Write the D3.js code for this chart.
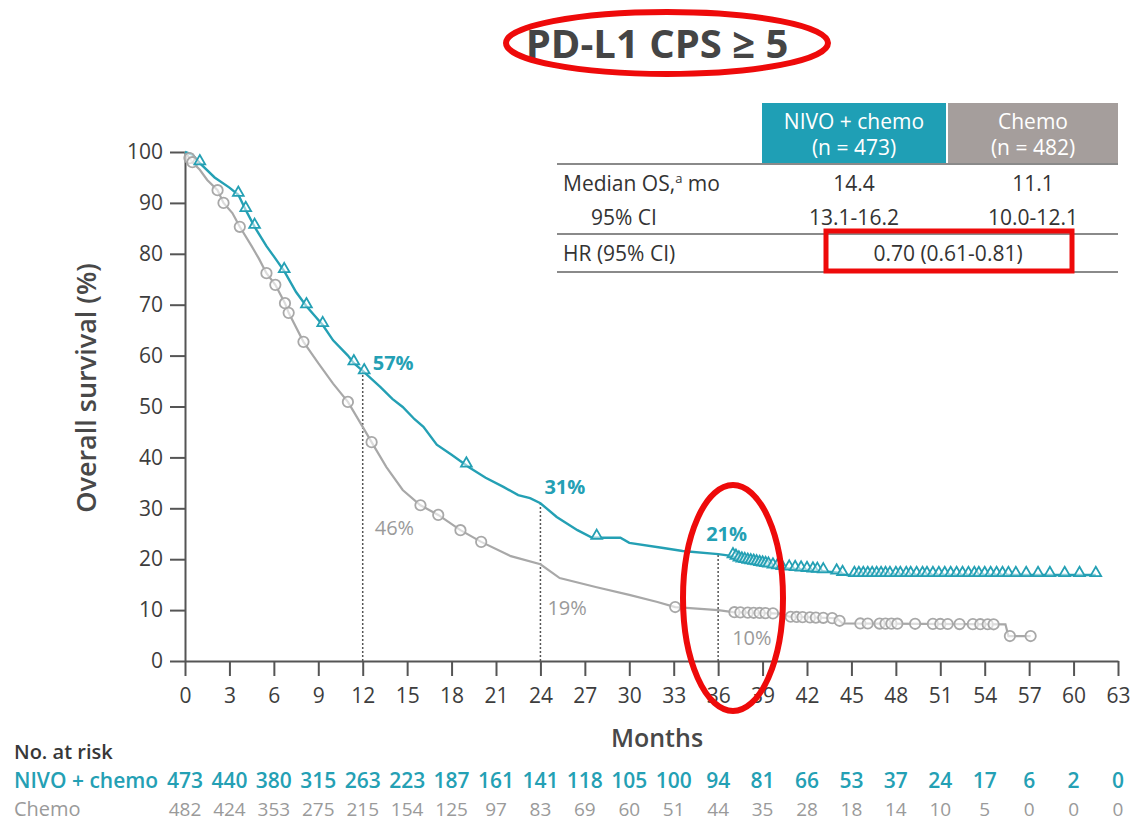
<!DOCTYPE html>
<html>
<head>
<meta charset="utf-8">
<script src="https://cdn.jsdelivr.net/npm/d3@7"></script>
<style>
  html, body { margin: 0; padding: 0; background: #fff; }
  svg { display: block; font-family: "Open Sans", "Noto Sans", sans-serif; }
</style>
</head>
<body>
<svg id="chart" width="1130" height="821"></svg>
<script>
// ---- Data ----
const monthTicks = [0,3,6,9,12,15,18,21,24,27,30,33,36,39,42,45,48,51,54,57,60,63];
const survivalTicks = [0,10,20,30,40,50,60,70,80,90,100];

// Kaplan–Meier estimates, [month, % alive]
const nivoCurve = [
  [0,100],[0.5,99.5],[1.0,97.8],[2.0,95.0],[3.0,93.0],[3.6,91.6],[4.1,88.6],[4.7,85.3],
  [5.5,81.5],[6.0,79.5],[6.7,76.6],[7.5,72.5],[8.2,69.7],[9.3,66.0],[10.0,63.0],[11.0,60.0],
  [11.4,58.5],[12.0,57.0],[13.2,53.8],[14.0,51.5],[14.7,49.9],[15.5,47.5],[16.1,46.0],
  [17.0,42.5],[18.0,40.5],[19.2,38.0],[20.3,36.0],[21.5,34.2],[22.5,32.6],[23.3,32.0],
  [24.0,31.0],[25.1,28.3],[26.5,25.7],[27.5,24.2],[29.4,24.2],[30.0,23.2],[32.3,22.2],
  [33.6,21.6],[36.0,21.0],[37.0,20.6],[37.5,19.8],[40.2,18.3],[42.0,17.9],[44.0,17.4],
  [44.7,16.9],[61.5,16.9]
];
const chemoCurve = [
  [0,100],[0.5,98.0],[1.0,96.5],[1.5,94.5],[2.2,92.5],[2.6,90.0],[3.2,88.0],[3.7,85.3],
  [4.5,81.5],[5.0,79.0],[5.5,76.2],[6.1,73.9],[6.75,70.3],[7.0,68.4],[8.0,62.7],[9.0,58.5],
  [10.0,54.5],[11.0,50.9],[12.0,46.0],[12.6,43.0],[13.6,38.1],[14.7,33.6],[15.9,30.6],
  [17.1,28.7],[18.6,25.7],[20.0,23.4],[22.0,20.6],[24.0,19.0],[25.3,16.3],[27.8,14.5],
  [30.0,13.0],[31.9,11.6],[33.1,10.6],[34.1,10.4],[36.0,10.0],[37.0,9.6],[40.3,9.3],
  [40.8,8.7],[44.0,8.4],[44.4,7.4],[55.4,7.2],[55.6,4.9],[57.1,4.9]
];

// Censoring times (months)
const nivoCensor = [
  1.0,3.6,4.1,4.7,6.7,8.2,9.3,11.4,12.1,19.0,27.8,
  37.0,37.2,37.4,37.6,37.8,38.0,38.2,38.4,38.6,38.8,39.0,39.2,39.4,39.7,40.0,40.3,
  40.8,41.2,41.6,42.0,42.4,42.7,43.1,44.0,44.4,
  45.2,45.5,45.8,46.1,46.4,46.7,47.0,47.3,47.6,48.0,48.3,48.7,49.0,49.4,49.8,50.1,
  50.5,50.9,51.3,51.7,52.1,52.5,52.9,53.3,53.6,54.0,54.4,54.8,55.2,55.6,56.1,56.8,
  57.6,58.4,59.4,60.4,61.5
];
const chemoCensor = [
  0.3,0.5,2.2,2.6,3.7,5.5,6.1,6.75,7.0,8.0,11.0,12.6,15.9,17.1,18.6,20.0,33.1,
  37.1,37.5,38.0,38.4,38.8,39.2,39.7,40.9,41.3,41.7,42.2,42.6,43.1,43.7,44.2,
  45.6,46.1,46.9,47.3,47.7,48.1,49.3,50.5,51.0,51.5,52.3,53.2,53.7,54.2,54.6,55.7,57.1
];

// Landmark survival rates
const landmarkMonths = [12, 24, 36];
const nivoLandmarks = [57, 31, 21];
const chemoLandmarks = [46, 19, 10];

// Numbers at risk
const nivoAtRisk = [473,440,380,315,263,223,187,161,141,118,105,100,94,81,66,53,37,24,17,6,2,0];
const chemoAtRisk = [482,424,353,275,215,154,125,97,83,69,60,51,44,35,28,18,14,10,5,0,0,0];

// Summary table
const armHeaders = [["NIVO + chemo", "(n = 473)"], ["Chemo", "(n = 482)"]];
const medianOS = ["14.4", "11.1"];
const medianCI = ["13.1-16.2", "10.0-12.1"];
const hazardRatio = "0.70 (0.61-0.81)";

// ---- Style ----
const TEAL = "#24a0b4";
const TEAL_HEAD = "#1f9fb5";
const GREY = "#a8a8a8";
const GREY_TEXT = "#9a9a9a";
const GREY_HEAD = "#a59e9c";
const INK = "#3d3d3d";
const RED = "#ee0a0a";

const svg = d3.select("#chart");

const x = d3.scaleLinear().domain([0, 63]).range([185, 1118]);
const y = d3.scaleLinear().domain([0, 100]).range([661, 152]);

// Title
svg.append("text")
  .attr("x", 657).attr("y", 58)
  .attr("text-anchor", "middle")
  .attr("font-size", 40).attr("font-weight", 700)
  .attr("fill", "#454545")
  .text("PD-L1 CPS \u2265 5");

// Axes
const xAxis = svg.append("g")
  .attr("transform", `translate(0,${y(0)})`)
  .call(d3.axisBottom(x).tickValues(monthTicks).tickSize(15).tickPadding(12).tickSizeOuter(0));
const yAxis = svg.append("g")
  .attr("transform", `translate(${x(0)},0)`)
  .call(d3.axisLeft(y).tickValues(survivalTicks).tickSize(15).tickPadding(7).tickSizeOuter(0));
[xAxis, yAxis].forEach(g => {
  g.select(".domain").attr("stroke", "#555").attr("stroke-width", 2);
  g.selectAll(".tick line").attr("stroke", "#555").attr("stroke-width", 2);
  g.selectAll(".tick text").attr("fill", INK).attr("font-size", 21)
    .attr("font-family", "'Open Sans', sans-serif");
});

// Axis titles
svg.append("text")
  .attr("x", 657).attr("y", 747)
  .attr("text-anchor", "middle")
  .attr("font-size", 25).attr("font-weight", 600).attr("fill", "#484848")
  .text("Months");
svg.append("text")
  .attr("transform", `translate(96,388) rotate(-90)`)
  .attr("text-anchor", "middle")
  .attr("font-size", 27).attr("font-weight", 600).attr("fill", "#484848")
  .text("Overall survival (%)");

// Landmark guide lines, up to the NIVO curve
svg.append("g").selectAll("line")
  .data(landmarkMonths.map((m, i) => [m, nivoLandmarks[i]]))
  .join("line")
  .attr("x1", d => x(d[0])).attr("x2", d => x(d[0]))
  .attr("y1", y(0)).attr("y2", d => y(d[1]))
  .attr("stroke", "#555").attr("stroke-width", 1.5)
  .attr("stroke-dasharray", "2,2");

// Curves
const line = d3.line().x(d => x(d[0])).y(d => y(d[1])).curve(d3.curveLinear);
function valueAt(curve, m) {
  const i = d3.bisector(d => d[0]).right(curve, m);
  if (i <= 0) return curve[0][1];
  if (i >= curve.length) return curve[curve.length - 1][1];
  const a = curve[i - 1], b = curve[i];
  const t = (m - a[0]) / (b[0] - a[0]);
  return a[1] + t * (b[1] - a[1]);
}

svg.append("path").datum(chemoCurve)
  .attr("d", line).attr("fill", "none")
  .attr("stroke", GREY).attr("stroke-width", 2.2);
svg.append("path").datum(nivoCurve)
  .attr("d", line).attr("fill", "none")
  .attr("stroke", TEAL).attr("stroke-width", 2.4);

// Censor marks
svg.append("g").selectAll("circle")
  .data(chemoCensor)
  .join("circle")
  .attr("cx", d => x(d)).attr("cy", d => y(valueAt(chemoCurve, d)))
  .attr("r", 5.2).attr("fill", "#fff").attr("fill-opacity", 0.6)
  .attr("stroke", GREY).attr("stroke-width", 1.8);

const tri = d3.symbol().type(d3.symbolTriangle).size(50);
svg.append("g").selectAll("path")
  .data(nivoCensor)
  .join("path")
  .attr("d", tri)
  .attr("transform", d => `translate(${x(d)},${y(valueAt(nivoCurve, d)) - 2})`)
  .attr("fill", "#fff").attr("fill-opacity", 0.5)
  .attr("stroke", TEAL).attr("stroke-width", 1.8);

// Landmark labels
svg.append("g").selectAll("text")
  .data(landmarkMonths.map((m, i) => ({ m, v: nivoLandmarks[i] })))
  .join("text")
  .attr("x", (d, i) => x(d.m) + [10, 4, -12][i])
  .attr("y", (d, i) => y(d.v) + [-1, -9, -13][i])
  .attr("font-size", 20).attr("font-weight", 700).attr("fill", TEAL)
  .text(d => d.v + "%");
svg.append("g").selectAll("text")
  .data(landmarkMonths.map((m, i) => ({ m, v: chemoLandmarks[i] })))
  .join("text")
  .attr("x", (d, i) => x(d.m) + [12, 7, 14][i])
  .attr("y", (d, i) => y(d.v) + [108, 51, 35][i])
  .attr("font-size", 20).attr("fill", GREY_TEXT)
  .text(d => d.v + "%");

// Summary table
const colX = [762, 948];
const colW = [184, 170];
const TFS = 21;
const head = svg.append("g");
armHeaders.forEach((h, i) => {
  head.append("rect").attr("x", colX[i]).attr("y", 103).attr("width", colW[i]).attr("height", 61)
    .attr("fill", i === 0 ? TEAL_HEAD : GREY_HEAD);
  head.append("text").attr("x", colX[i] + colW[i] / 2).attr("y", 129)
    .attr("text-anchor", "middle").attr("font-size", TFS).attr("fill", "#fff").text(h[0]);
  head.append("text").attr("x", colX[i] + colW[i] / 2).attr("y", 155)
    .attr("text-anchor", "middle").attr("font-size", TFS).attr("fill", "#fff").text(h[1]);
});
[164, 234, 272].forEach(yy => {
  svg.append("line").attr("x1", 557).attr("x2", 1118).attr("y1", yy).attr("y2", yy)
    .attr("stroke", "#8a8a8a").attr("stroke-width", 2);
});
const rowText = (xx, yy, t, anchor) => svg.append("text")
  .attr("x", xx).attr("y", yy).attr("text-anchor", anchor || "start")
  .attr("font-size", TFS).attr("fill", "#333").text(t);
const med = rowText(563, 191, "Median OS,", "start");
med.append("tspan").attr("font-size", 13).attr("dy", -8).text("a");
med.append("tspan").attr("dy", 8).text(" mo");
rowText(624, 225, "95% CI", "middle");
rowText(563, 261, "HR (95% CI)", "start");
medianOS.forEach((v, i) => rowText(colX[i] + colW[i] / 2, 191, v, "middle"));
medianCI.forEach((v, i) => rowText(colX[i] + colW[i] / 2, 225, v, "middle"));
rowText(948, 261, hazardRatio, "middle");

// Numbers at risk
svg.append("text").attr("x", 14).attr("y", 759)
  .attr("font-size", 20).attr("font-weight", 600).attr("fill", "#383838").text("No. at risk");
svg.append("text").attr("x", 14).attr("y", 788)
  .attr("font-size", 21).attr("font-weight", 600).attr("fill", TEAL).text("NIVO + chemo");
svg.append("text").attr("x", 14).attr("y", 816)
  .attr("font-size", 20).attr("fill", GREY_TEXT).text("Chemo");
svg.append("g").selectAll("text")
  .data(nivoAtRisk)
  .join("text")
  .attr("x", (d, i) => x(monthTicks[i])).attr("y", 788)
  .attr("text-anchor", "middle").attr("font-size", 21).attr("font-weight", 600)
  .attr("fill", TEAL).text(d => d);
svg.append("g").selectAll("text")
  .data(chemoAtRisk)
  .join("text")
  .attr("x", (d, i) => x(monthTicks[i])).attr("y", 816)
  .attr("text-anchor", "middle").attr("font-size", 19)
  .attr("fill", GREY_TEXT).text(d => d);

// Highlight marks
svg.append("ellipse").attr("cx", 667).attr("cy", 43).attr("rx", 161).attr("ry", 31)
  .attr("fill", "none").attr("stroke", RED).attr("stroke-width", 6);
svg.append("rect").attr("x", 826).attr("y", 231).attr("width", 246).attr("height", 40)
  .attr("fill", "none").attr("stroke", RED).attr("stroke-width", 5);
svg.append("ellipse").attr("cx", 733).attr("cy", 598).attr("rx", 50).attr("ry", 113)
  .attr("fill", "none").attr("stroke", RED).attr("stroke-width", 6);
</script>
</body>
</html>
